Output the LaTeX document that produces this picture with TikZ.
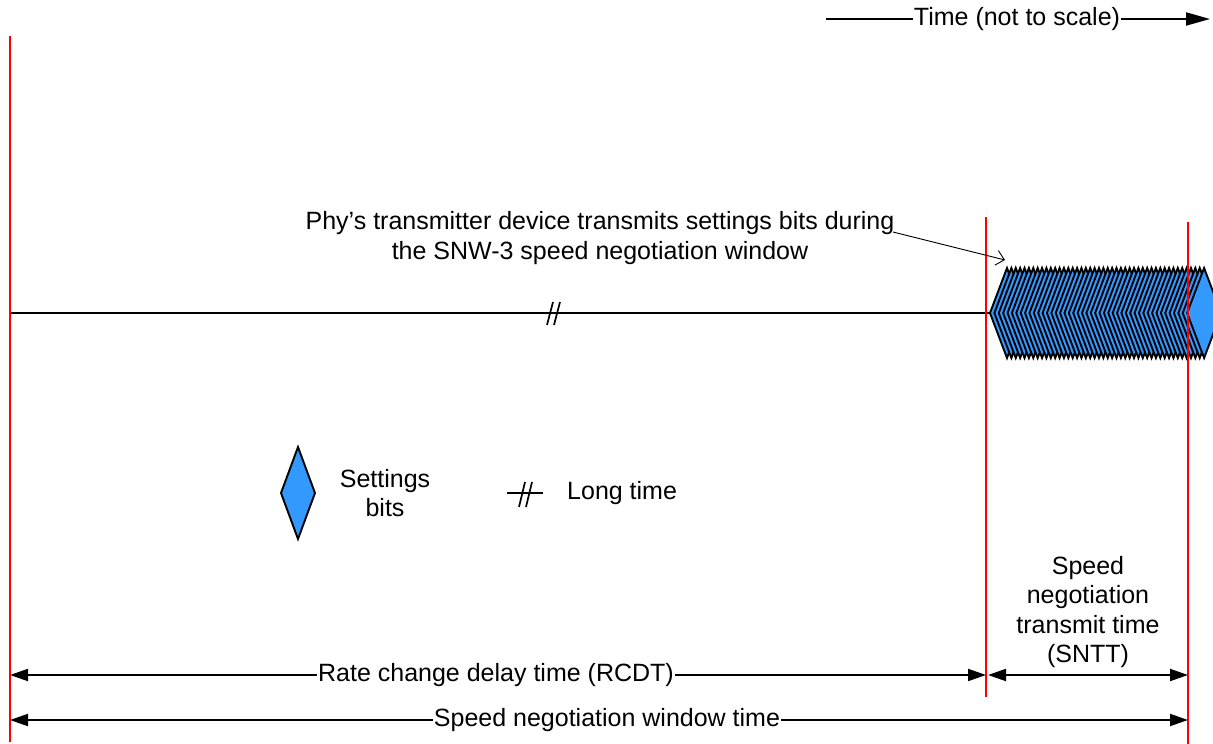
\documentclass[tikz,border=0pt]{standalone}
\usepackage{fontspec}
\setmainfont{Liberation Sans}
\usetikzlibrary{arrows.meta}
\definecolor{bitblue}{RGB}{51,153,255}
\begin{document}
\begin{tikzpicture}[x=1bp,y=-1bp,
 redline/.style={draw=red, line width=1.8bp},
 blk/.style={draw=black, line width=1.9bp},
 dim/.style={blk, {Triangle[length=18bp,width=12bp]}-{Triangle[length=18bp,width=12bp]}},
 lbl/.style={font=\fontsize{25bp}{29.5bp}\selectfont, inner sep=2bp, align=center},
 bit/.style={fill=bitblue, draw=black, line width=1.9bp, line join=miter},
 slash/.style={draw=black, line width=1.7bp},
]
\useasboundingbox (0,0) rectangle (1213,744);
\clip (0,0) rectangle (1213,744);

% coordinates
\coordinate (L0) at (10,36);   \coordinate (L1) at (10,742);
\coordinate (M0) at (986,217); \coordinate (M1) at (986,697);
\coordinate (R0) at (1188,222);\coordinate (R1) at (1188,744);
\coordinate (lineS) at (10,313); \coordinate (lineE) at (990,313);

% main time line
\draw[blk] (lineS) -- (lineE);
\draw[slash] (553,302) -- (547,325);
\draw[slash] (560,302) -- (554,325);

% train of settings bits
\foreach \i in {0,...,45}{
  \pgfmathsetmacro\cx{1007+\i*4.38}
  \draw[bit] (\cx-17,313) -- (\cx,268) -- (\cx+17,313) -- (\cx,358) -- cycle;
}

% red markers
\draw[redline] (L0) -- (L1);
\draw[redline] (M0) -- (M1);
\draw[redline] (R0) -- (R1);

% description and pointer
\node[lbl] (desc) at (600,238) {Phy’s transmitter device transmits settings bits during\\the SNW-3 speed negotiation window};
\coordinate (ptrS) at (893,232);
\coordinate (ptrE) at (1005,260);
\draw[draw=black, line width=0.9bp, -{Straight Barb[length=8bp,width=15bp]}] (ptrS) -- (ptrE);

% time arrow
\coordinate (tS) at (826,19); \coordinate (tE) at (1210,19);
\draw[blk, -{Triangle[length=24bp,width=13bp]}] (tS) -- (tE);
\node[lbl, fill=white, inner sep=1bp] (time) at (1017,19) {Time (not to scale)};

% legend
\draw[bit] (281,493) -- (298,447) -- (315,493) -- (298,539) -- cycle;
\node[lbl] (setb) at (385,493) {Settings\\bits};
\coordinate (lgS) at (507,493); \coordinate (lgE) at (543,493);
\draw[blk] (lgS) -- (lgE);
\draw[slash] (525,482) -- (519,507);
\draw[slash] (532,482) -- (526,507);
\node[lbl, anchor=west, inner sep=0bp] (longt) at (567,493) {Long time};

% dimension arrows
\coordinate (dA) at (10,675);  \coordinate (dB) at (986,675);
\coordinate (dC) at (988,675); \coordinate (dD) at (1188,675);
\coordinate (wA) at (10,720);  \coordinate (wB) at (1188,720);
\draw[dim] (dA) -- (dB);
\draw[dim] (dC) -- (dD);
\draw[dim] (wA) -- (wB);
\node[lbl, fill=white, inner sep=1bp] (rcdt) at (496,675) {Rate change delay time (RCDT)};
\node[lbl, fill=white, inner sep=1bp] (snwt) at (607,720) {Speed negotiation window time};
\node[lbl] (sntt) at (1088,612) {Speed\\negotiation\\transmit time\\(SNTT)};
\end{tikzpicture}
\end{document}
